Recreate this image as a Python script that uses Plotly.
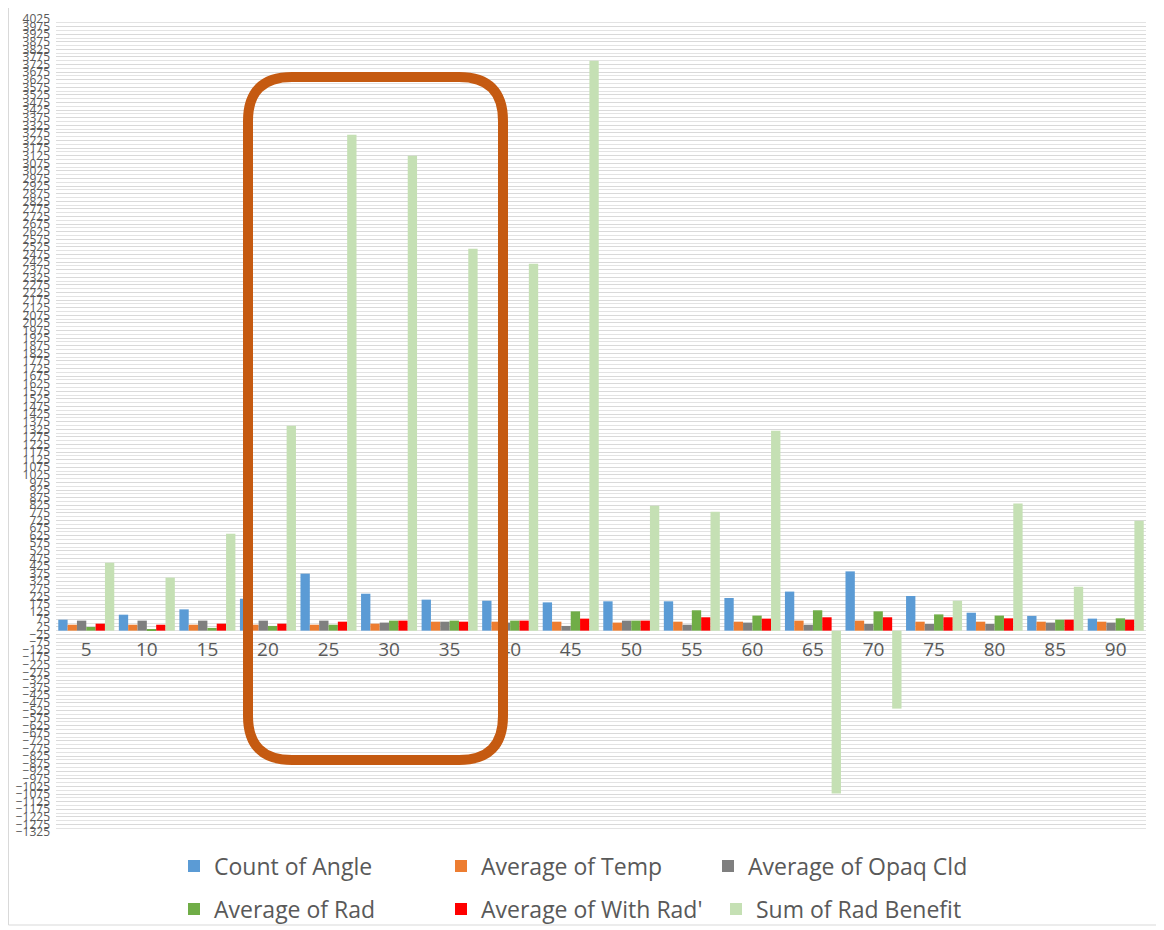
import plotly.graph_objects as go

angles = ["5", "10", "15", "20", "25", "30", "35", "40", "45", "50", "55", "60", "65", "70", "75", "80", "85", "90"]
count_of_angle = [72, 105, 140, 210, 375, 243, 204, 197, 186, 193, 193, 215, 257, 390, 228, 118, 97, 79]
avg_temp = [39, 39, 39, 39, 39, 46, 59, 59, 59, 53, 59, 59, 66, 66, 59, 59, 59, 59]
avg_opaq_cld = [66, 66, 66, 66, 66, 53, 59, 53, 31, 66, 39, 53, 39, 44, 44, 44, 53, 53]
avg_rad = [24, 11, 18, 31, 39, 66, 66, 66, 127, 66, 134, 99, 134, 127, 107, 99, 72, 81]
avg_with_rad = [46, 39, 46, 46, 59, 66, 59, 66, 79, 66, 88, 79, 88, 88, 88, 81, 72, 72]
sum_rad_benefit = [447, 349, 638, 1349, 3263, 3125, 2513, 2414, 3750, 822, 783, 1316, -1072, -513, 197, 836, 289, 724]

series_names = ["Count of Angle", "Average of Temp", "Average of Opaq Cld",
                "Average of Rad", "Average of With Rad'", "Sum of Rad Benefit"]
series_values = [count_of_angle, avg_temp, avg_opaq_cld, avg_rad, avg_with_rad, sum_rad_benefit]
colors = ["#5B9BD5", "#ED7D31", "#7F7F7F", "#70AD47", "#FF0000", "#C5E0B4"]

Y_MIN, Y_MAX = -1325, 4025

OFF = 8  # page body margin
W, H = 1164 - OFF, 930 - OFF
# plot area in page pixels: x 56..1146, y 19..832
L, T = 56 - OFF, 19 - OFF
R, B = W - (1146 - OFF), H - (832 - OFF)
PW, PH = W - L - R, H - T - B


def px(x):
    """page pixel x -> paper fraction"""
    return (x - OFF - L) / PW


def py(y):
    """page pixel y -> paper fraction"""
    return 1 - (y - OFF - T) / PH


fig = go.Figure()
for i, (name, vals, col) in enumerate(zip(series_names, series_values, colors)):
    fig.add_trace(go.Bar(
        x=angles, y=vals, name=name, marker=dict(color=col, line=dict(width=0)),
        legend="legend" if i == 0 else f"legend{i + 1}",
        showlegend=True,
    ))

font_family = "Open Sans, DejaVu Sans, sans-serif"
text_col = "#595959"

# legend text start positions (page pixels) and row centers
legend_pos = [(214, 866), (481, 866), (748, 866), (214, 909), (481, 909), (756, 909)]
legends = {}
for i, (tx, ty) in enumerate(legend_pos):
    key = "legend" if i == 0 else f"legend{i + 1}"
    legends[key] = dict(
        x=(tx - 40 - OFF) / W, y=1 - (ty - OFF) / H, xanchor="left", yanchor="middle",
        xref="container", yref="container", orientation="h",
        font=dict(family=font_family, size=23, color=text_col),
        bgcolor="rgba(0,0,0,0)", borderwidth=0, visible=True,
    )

# rounded highlight box
x0, x1, y0, y1 = px(248), px(503), py(760), py(77)
rx, ry = 44 / PW, 44 / PH
path = (f"M {x0 + rx},{y1} L {x1 - rx},{y1} Q {x1},{y1} {x1},{y1 - ry} "
        f"L {x1},{y0 + ry} Q {x1},{y0} {x1 - rx},{y0} "
        f"L {x0 + rx},{y0} Q {x0},{y0} {x0},{y0 + ry} "
        f"L {x0},{y1 - ry} Q {x0},{y1} {x0 + rx},{y1} Z")

shapes = [
    dict(type="rect", xref="paper", yref="paper", x0=px(8.5), x1=px(1159), y0=py(925), y1=py(7.5),
         line=dict(color="#D9D9D9", width=1), fillcolor="rgba(0,0,0,0)", layer="below"),
    dict(type="path", xref="paper", yref="paper", path=path,
         line=dict(color="#C55A11", width=10), fillcolor="rgba(0,0,0,0)"),
]

fig.update_layout(
    width=W, height=H,
    margin=dict(l=L, r=R, t=T, b=B, pad=0, autoexpand=False),
    paper_bgcolor="white", plot_bgcolor="white",
    barmode="group", bargap=0.075, bargroupgap=0,
    font=dict(family=font_family, color=text_col),
    showlegend=True,
    shapes=shapes,
    **legends,
)

fig.update_xaxes(
    type="category", anchor="free", position=(0 - Y_MIN) / (Y_MAX - Y_MIN),
    showline=False, showgrid=False, zeroline=False, ticks="", automargin=False,
    tickfont=dict(size=19, color=text_col), ticklabelstandoff=5,
)
fig.update_yaxes(
    range=[Y_MIN, Y_MAX], tickmode="linear", tick0=Y_MIN, dtick=50, automargin=False,
    showgrid=True, gridcolor="#D9D9D9", gridwidth=1, zeroline=False, showline=False,
    ticks="", tickfont=dict(size=12, color=text_col), ticklabelstandoff=5,
    minor=dict(tick0=Y_MIN, dtick=25, showgrid=True, gridcolor="#E3E3E3", gridwidth=1),
)

fig.write_html("out.html")
